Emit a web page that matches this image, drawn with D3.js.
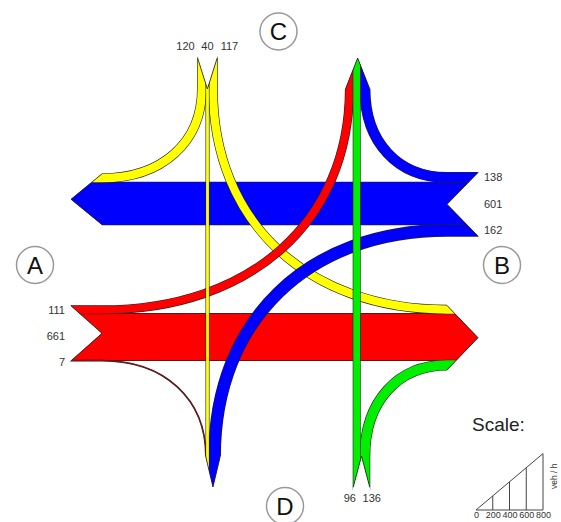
<!DOCTYPE html>
<html>
<head>
<meta charset="utf-8">
<style>
    body { margin: 0; background: #fff; }
    svg { display: block; font-family: 'Liberation Sans', Arial, sans-serif; }
    .vol { font-size: 11px; fill: #333; }
    .arm circle { fill: #fff; stroke: #999; stroke-width: 1.5px; }
    .arm text { font-size: 24px; fill: #111; }
    .edge { fill: none; stroke: #222; stroke-width: 0.8px; }
    .legend .tick text { font-size: 9px; fill: #333; }
    .legend .domain { display: none; }
</style>
</head>
<body>
<svg width="561" height="522"></svg>
<script src="https://d3js.org/d3.v7.min.js"></script>
<script>
    // approaches and turning volumes (veh / h)
    const approaches = ["A", "B", "C", "D"];
    const flowFrom = ["A", "A", "A", "B", "B", "B", "C", "C", "C", "D", "D"];
    const flowTo   = ["C", "B", "D", "C", "A", "D", "A", "D", "B", "C", "B"];
    const flowVeh  = [111, 661, 7, 138, 601, 162, 120, 40, 117, 96, 136];
    const scaleTicks = [0, 200, 400, 600, 800];

    const colors = { A: "#ff0000", B: "#0000ff", C: "#ffff00", D: "#00ee00" };
    const opposite = { A: "B", B: "A", C: "D", D: "C" };

    let svg = d3.select("svg");

    // layout of the junction
    let box = { left: 102, right: 447, top: 89, bottom: 456 };
    let stub = 31;
    let bend = 0.6;
    let thruCenter = { AB: 337, BA: 203.5, CD: 207.5, DC: 356.7 };
    let circlePos = { A: [35, 265], B: [502, 265], C: [278.5, 31.5], D: [285, 506] };

    let w = d3.scaleLinear().domain([0, 800]).range([0, 56.4]);

    let horiz = a => a == "A" || a == "B";
    let side = a => (a == "A" || a == "C") ? -1 : 1;

    // s = distance out from the box edge, u = position across the arm
    function toXY(arm, s, u) {
        if (arm == "A") return [box.left - s, u];
        if (arm == "B") return [box.right + s, u];
        if (arm == "C") return [u, box.top - s];
        return [u, box.bottom + s];
    }

    let flows = flowVeh.map((v, i) => ({ from: flowFrom[i], to: flowTo[i], veh: v, width: w(v) }));
    let thruWidth = key => flows.find(f => f.from + f.to == key).width;

    flows.forEach(f => {
        let inKey = f.from + opposite[f.from];
        let outKey = opposite[f.to] + f.to;
        f.straight = f.to == opposite[f.from];
        if (f.straight) {
            f.latIn = thruCenter[inKey];
            f.latOut = thruCenter[outKey];
        } else {
            f.latIn = thruCenter[inKey] + side(f.to) * (thruWidth(inKey) / 2 + f.width / 2);
            f.latOut = thruCenter[outKey] + side(f.from) * (thruWidth(outKey) / 2 + f.width / 2);
        }
        let p = d3.path();
        let a0 = toXY(f.from, stub + 8, f.latIn);
        let a1 = toXY(f.from, 0, f.latIn);
        let b1 = toXY(f.to, 0, f.latOut);
        let b0 = toXY(f.to, stub + 8, f.latOut);
        p.moveTo(a0[0], a0[1]);
        p.lineTo(a1[0], a1[1]);
        if (!f.straight) {
            let c = horiz(f.from) ? [b1[0], a1[1]] : [a1[0], b1[1]];
            p.bezierCurveTo(
                a1[0] + bend * (c[0] - a1[0]), a1[1] + bend * (c[1] - a1[1]),
                b1[0] + bend * (c[0] - b1[0]), b1[1] + bend * (c[1] - b1[1]),
                b1[0], b1[1]);
        }
        p.lineTo(b0[0], b0[1]);
        f.d = p.toString();
        // drawing order: horizontal through, curves, vertical through
        if (f.straight) f.order = horiz(f.from) ? 0 : 3;
        else f.order = f.from == "C" ? 1 : 2;
    });

    // ends of every arm: swallowtail for entering, arrow for leaving
    let clipShapes = [];
    let edgeLines = [];
    approaches.forEach(a => {
        let ins = flows.filter(f => f.from == a);
        let u0 = d3.min(ins, f => f.latIn - f.width / 2);
        let u1 = d3.max(ins, f => f.latIn + f.width / 2);
        let um = (u0 + u1) / 2;
        clipShapes.push([
            toXY(a, 0, u0 - 2), toXY(a, stub * (1 + 2 / (um - u0)), u0 - 2), toXY(a, 0, um),
            toXY(a, stub * (1 + 2 / (u1 - um)), u1 + 2), toXY(a, 0, u1 + 2)]);
        edgeLines.push([toXY(a, stub, u0), toXY(a, 0, um), toXY(a, stub, u1)]);
        a.inRange = [u0, u1];

        let outs = flows.filter(f => f.to == a);
        let v0 = d3.min(outs, f => f.latOut - f.width / 2);
        let v1 = d3.max(outs, f => f.latOut + f.width / 2);
        let vm = (v0 + v1) / 2;
        clipShapes.push([toXY(a, 0, v0), toXY(a, stub, vm), toXY(a, 0, v1)]);
        edgeLines.push([toXY(a, 0, v0), toXY(a, stub, vm), toXY(a, 0, v1)]);
    });

    let clip = svg.append("clipPath").attr("id", "junction");
    clip.append("rect")
        .attr("x", box.left).attr("y", box.top)
        .attr("width", box.right - box.left).attr("height", box.bottom - box.top);
    clip.selectAll("polygon")
        .data(clipShapes)
        .join("polygon")
        .attr("points", d => d.map(p => p.join(",")).join(" "));

    let bands = svg.append("g").attr("clip-path", "url(#junction)");
    let sorted = flows.slice().sort((a, b) => a.order - b.order);
    sorted.forEach(f => {
        bands.append("path")
            .attr("d", f.d)
            .style("fill", "none")
            .style("stroke", "#222")
            .style("stroke-width", f.width + 1.2);
        bands.append("path")
            .attr("d", f.d)
            .style("fill", "none")
            .style("stroke", colors[f.from])
            .style("stroke-width", f.width);
    });

    svg.append("g")
        .selectAll("path")
        .data(edgeLines)
        .join("path")
        .attr("class", "edge")
        .attr("d", d3.line());

    // volume labels at the entering ends
    let labels = [];
    approaches.forEach(a => {
        let ins = flows.filter(f => f.from == a).sort((p, q) => p.latIn - q.latIn);
        let gap = horiz(a) ? 26 : 22;
        let pos = ins.map(f => f.latIn);
        let crowded = pos.some((p, i) => i > 0 && p - pos[i - 1] < gap);
        if (crowded) {
            let mean = d3.mean(pos);
            pos = pos.map((p, i) => mean + (i - (pos.length - 1) / 2) * gap);
        }
        ins.forEach((f, i) => {
            let x, y, anchor;
            if (a == "A") { x = box.left - stub - 6; y = pos[i] + 4; anchor = "end"; }
            if (a == "B") { x = box.right + stub + 6; y = pos[i] + 4; anchor = "start"; }
            if (a == "C") { x = pos[i]; y = box.top - stub - 8; anchor = "middle"; }
            if (a == "D") { x = pos[i]; y = box.bottom + stub + 15; anchor = "middle"; }
            labels.push({ x: x, y: y, anchor: anchor, text: f.veh });
        });
    });

    svg.append("g")
        .selectAll("text")
        .data(labels)
        .join("text")
        .attr("class", "vol")
        .attr("x", d => d.x)
        .attr("y", d => d.y)
        .attr("text-anchor", d => d.anchor)
        .text(d => d.text);

    // approach names
    let arms = svg.append("g")
        .selectAll("g")
        .data(approaches)
        .join("g")
        .attr("class", "arm")
        .attr("transform", d => `translate(${circlePos[d][0]},${circlePos[d][1]})`);
    arms.append("circle").attr("r", 18.5);
    arms.append("text")
        .attr("text-anchor", "middle")
        .attr("dy", "0.36em")
        .text(d => d);

    // scale
    let legend = svg.append("g").attr("class", "legend");
    let lx = d3.scaleLinear().domain([0, 800]).range([476, 543]);
    let baseY = 510;

    legend.append("text")
        .attr("x", 472)
        .attr("y", 431)
        .style("font-size", "19px")
        .style("fill", "#222")
        .text("Scale:");

    legend.append("path")
        .attr("d", `M${lx(0)},${baseY}L${lx(800)},${baseY}L${lx(800)},${baseY - w(800)}Z`)
        .style("fill", "none")
        .style("stroke", "#444")
        .style("stroke-width", 1);

    legend.selectAll(".bar")
        .data(scaleTicks.slice(1, -1))
        .join("line")
        .attr("class", "bar")
        .attr("x1", d => lx(d))
        .attr("x2", d => lx(d))
        .attr("y1", baseY)
        .attr("y2", d => baseY - w(d))
        .style("stroke", "#444")
        .style("stroke-width", 1);

    legend.append("g")
        .attr("transform", `translate(0,${baseY})`)
        .call(d3.axisBottom(lx).tickValues(scaleTicks).tickSize(0).tickPadding(2))
        .call(g => g.selectAll(".tick text").attr("font-family", null));

    legend.append("text")
        .attr("transform", `translate(557,489) rotate(-90)`)
        .style("font-size", "8.5px")
        .style("fill", "#333")
        .text("veh / h");
</script>
</body>
</html>
